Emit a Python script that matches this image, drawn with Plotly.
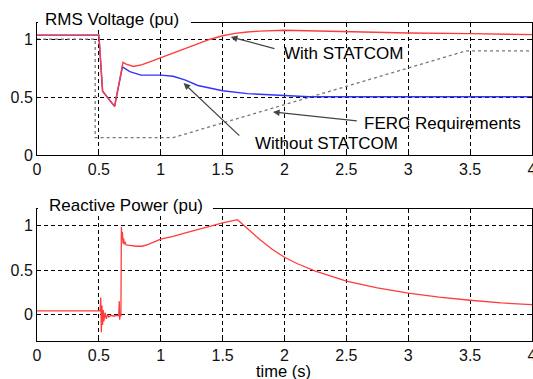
import plotly.graph_objects as go

# ---- data ----
t_with = [0, 0.5, 0.53, 0.627, 0.695, 0.72, 0.78, 0.85, 0.9, 0.95, 1.0, 1.1, 1.2, 1.3, 1.4, 1.5,
          1.6, 1.7, 1.8, 2.0, 2.2, 2.5, 3.0, 3.5, 4.0]
v_with = [1.035, 1.035, 0.55, 0.42, 0.80, 0.785, 0.765, 0.78, 0.80, 0.82, 0.84, 0.88, 0.92, 0.96,
          1.0, 1.03, 1.05, 1.062, 1.07, 1.078, 1.072, 1.063, 1.054, 1.048, 1.04]

t_without = [0, 0.5, 0.53, 0.627, 0.69, 0.75, 0.84, 1.0, 1.1, 1.2, 1.3, 1.4, 1.5, 1.7, 2.0,
             2.2, 2.5, 3.0, 4.0]
v_without = [1.035, 1.035, 0.55, 0.42, 0.76, 0.72, 0.69, 0.69, 0.68, 0.647, 0.60, 0.575, 0.555,
             0.53, 0.51, 0.503, 0.503, 0.503, 0.503]

t_ferc = [0, 0.47, 0.47, 1.1, 3.47, 4.0]
v_ferc = [1.0, 1.0, 0.15, 0.15, 0.9, 0.9]

t_q = [0, 0.51, 0.515, 0.52, 0.525, 0.53, 0.535, 0.54, 0.55, 0.56, 0.57, 0.58, 0.6, 0.62, 0.64,
       0.66, 0.665, 0.668, 0.672, 0.678, 0.682, 0.686, 0.69, 0.695, 0.70, 0.705, 0.71, 0.72,
       0.75, 0.8, 0.85, 0.9, 1.0, 1.1, 1.2, 1.3, 1.4, 1.5, 1.62, 1.7, 1.8, 1.9, 2.0, 2.1, 2.25,
       2.5, 2.75, 3.0, 3.25, 3.5, 3.75, 4.0]
q = [0.04, 0.04, 0.19, -0.2, 0.1, -0.12, 0.05, -0.08, 0.02, -0.05, 0.0, -0.03, -0.01, -0.02,
     -0.01, -0.015, 0.15, -0.06, 0.0, -0.02, 0.99, 0.85, 0.93, 0.80, 0.86, 0.79, 0.82, 0.785,
     0.78, 0.77, 0.77, 0.79, 0.85, 0.88, 0.92, 0.96, 1.0, 1.035, 1.07, 0.97, 0.845, 0.735,
     0.645, 0.575, 0.49, 0.375, 0.30, 0.24, 0.195, 0.16, 0.13, 0.11]

x_ticks = [0, 0.5, 1, 1.5, 2, 2.5, 3, 3.5, 4]
x_labels = ["0", "0.5", "1", "1.5", "2", "2.5", "3", "3.5", "4"]
y_ticks = [0, 0.5, 1]
y_labels = ["0", "0.5", "1"]

RED = "rgb(255,60,60)"
BLUE = "rgb(50,50,255)"
FONT = "Liberation Sans, Arial, sans-serif"

fig = go.Figure()
fig.add_trace(go.Scatter(x=t_ferc, y=v_ferc, mode="lines", xaxis="x", yaxis="y",
                         line=dict(color="#777777", width=1.3, dash="dot")))
fig.add_trace(go.Scatter(x=t_without, y=v_without, mode="lines", xaxis="x", yaxis="y",
                         line=dict(color=BLUE, width=1.4)))
fig.add_trace(go.Scatter(x=t_with, y=v_with, mode="lines", xaxis="x", yaxis="y",
                         line=dict(color=RED, width=1.4)))
fig.add_trace(go.Scatter(x=t_q, y=q, mode="lines", xaxis="x2", yaxis="y2",
                         line=dict(color=RED, width=1.3)))

axis_common = dict(showline=True, linecolor="black", linewidth=1, mirror="ticks",
                   ticks="inside", ticklen=4, tickcolor="black",
                   showgrid=True, gridcolor="black", gridwidth=1, griddash="4px,3px",
                   zeroline=False, ticklabeloverflow="allow", automargin=False,
                   tickfont=dict(family=FONT, size=16, color="#111111"))

W, H, L, R, T, B = 533, 379, 37, 1, 23, 38
fig.update_layout(
    width=W, height=H, showlegend=False,
    margin=dict(l=L, r=R, t=T, b=B, pad=0),
    plot_bgcolor="white", paper_bgcolor="white",
    xaxis=dict(domain=[0, 1], range=[0, 4], anchor="y", tickvals=x_ticks, ticktext=x_labels,
               **axis_common),
    yaxis=dict(domain=[0.585, 1], range=[0, 1.14], anchor="x", tickvals=y_ticks,
               ticktext=y_labels, **axis_common),
    xaxis2=dict(domain=[0, 1], range=[0, 4], anchor="y2", tickvals=x_ticks, ticktext=x_labels,
                **axis_common),
    yaxis2=dict(domain=[0, 0.415], range=[-0.3, 1.19], anchor="x2", tickvals=y_ticks,
                ticktext=y_labels, **axis_common),
)

# white boxes behind the in-frame titles
pw, ph = W - L - R, H - T - B
def px(xp):
    return (xp - L) / pw
def py(yp):
    return (H - B - yp) / ph

fig.add_shape(type="rect", xref="paper", yref="paper", x0=px(38), x1=px(191), y0=py(27),
              y1=py(12), fillcolor="white", line=dict(width=0), layer="above")
fig.add_shape(type="rect", xref="paper", yref="paper", x0=px(38), x1=px(213), y0=py(214),
              y1=py(198), fillcolor="white", line=dict(width=0), layer="above")

tfont = dict(family=FONT, size=17, color="black")
fig.add_annotation(text="RMS Voltage (pu)", xref="paper", yref="paper", x=px(43), y=py(19.5),
                   xanchor="left", yanchor="middle", showarrow=False, font=tfont)
fig.add_annotation(text="Reactive Power (pu)", xref="paper", yref="paper", x=px(47), y=py(205.5),
                   xanchor="left", yanchor="middle", showarrow=False, font=tfont)
fig.add_annotation(text="time (s)", xref="paper", yref="paper", x=px(283), y=py(370.5),
                   xanchor="center", yanchor="middle", showarrow=False,
                   font=dict(family=FONT, size=16.5, color="black"))

# text labels in the top plot
fig.add_annotation(text="With STATCOM", xref="x", yref="y", x=2.479, y=0.879,
                   showarrow=False, font=tfont)
fig.add_annotation(text="Without STATCOM", xref="x", yref="y", x=2.341, y=0.103,
                   showarrow=False, font=tfont)
fig.add_annotation(text="FERC Requirements", xref="x", yref="y", x=3.278, y=0.276,
                   showarrow=False, font=tfont)

# arrows
arrows = [((1.566, 1.019), (1.931, 0.915)),
          ((1.185, 0.621), (1.647, 0.155)),
          ((1.907, 0.371), (2.596, 0.293))]
for (hx, hy), (tx, ty) in arrows:
    fig.add_annotation(text="", xref="x", yref="y", x=hx, y=hy, axref="x", ayref="y",
                       ax=tx, ay=ty, showarrow=True, arrowhead=2, arrowsize=1.1,
                       arrowwidth=1.2, arrowcolor="#444444")

fig.write_html("out.html", config={"displayModeBar": False},
               post_script="document.body.style.margin='0';document.body.style.overflow='hidden';")
